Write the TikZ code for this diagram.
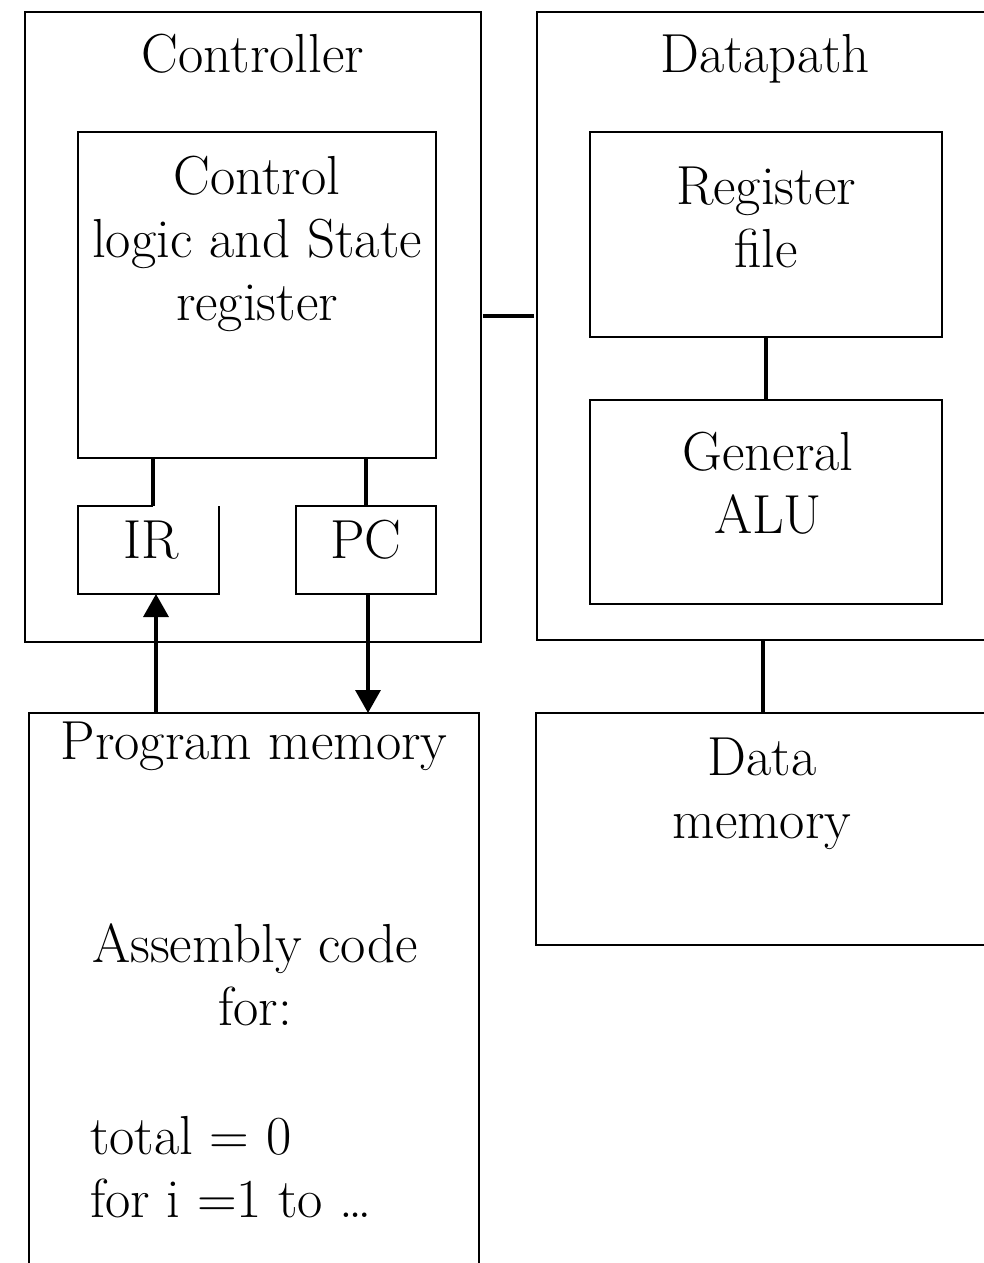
\documentclass[tikz,border=0pt]{standalone}
\usetikzlibrary{arrows.meta}

\begin{document}
\begin{tikzpicture}
  [x=1pt,y=-1pt,
   box/.style={draw,rectangle,line width=1.6pt,inner sep=0pt,outer sep=0pt},
   sz/.style 2 args={minimum width=#1pt,minimum height=#2pt},
   txt/.style={anchor=base,align=center,inner sep=0pt,font=\fontsize{55}{63}\selectfont},
   link/.style={line width=3.4pt},
   arr/.style={line width=3.4pt,-{Triangle[length=23pt,width=25pt]}}]
  \useasboundingbox (0,0) rectangle (984,1263);
  \clip (0,0) rectangle (984,1263);

  % outer blocks
  \node[box,sz={456}{630}] (ctrl) at (253,327) {};
  \node[box,sz={463}{628}] (dpath) at (768.5,326) {};
  \node[box,sz={450}{577}] (pmem) at (254,1001.5) {};
  \node[box,sz={464}{232}] (dmem) at (768,829) {};

  % inner blocks
  \node[box,sz={358}{326}] (logic) at (257,295) {};
  \node[box,draw=none,sz={141}{88}] (ir) at (148.5,550) {};
  \node[box,sz={140}{88}] (pc) at (366,550) {};
  \node[box,sz={352}{205}] (rf) at (766,234.5) {};
  \node[box,sz={352}{204}] (alu) at (766,502) {};
  \draw[line width=1.6pt] ([xshift=4.5pt]ir.north) -| (ir.south west) -| (ir.north east);

  % labels (multi-line ones sit on their last line)
  \node[txt] (ctrltxt) at (253,72) {Controller};
  \node[txt] (dpathtxt) at (765,72) {Datapath};
  \node[txt] (logictxt) at (257,320) {Control\\logic and State\\register};
  \node[txt] (irtxt) at (151,558) {IR};
  \node[txt] (pctxt) at (366,558) {PC};
  \node[txt] (rftxt) at (766,267) {Register\\file};
  \node[txt] (alutxt) at (768,533) {General\\ALU};
  \node[txt] (pmemtxt) at (254,759) {Program memory};
  \node[txt] (asmtxt) at (255,1025) {Assembly code\\for:};
  \node[txt,align=left,anchor=base west] (codetxt) at (90,1217) {total = 0\\for i =1 to \dots};
  \node[txt] (dmemtxt) at (762,838) {Data\\memory};

  % connections
  \coordinate (hl) at (0,316);
  \draw[link,shorten <=2pt,shorten >=3pt] (ctrl.east |- hl) -- (dpath.west |- hl);
  \draw[link] ([xshift=4.5pt]ir.north) -- ([xshift=4.5pt]ir.north |- logic.south);
  \draw[link] (pc.north) -- (pc.north |- logic.south);
  \draw[link] (rf.south) -- (alu.north);
  \draw[link] ([xshift=-3pt]alu.south |- dpath.south) -- ([xshift=-3pt]alu.south |- dmem.north);
  \draw[arr] ([xshift=7.5pt]ir.south |- pmem.north) -- ([xshift=7.5pt]ir.south);
  \draw[arr] ([xshift=2pt]pc.south) -- ([xshift=2pt]pc.south |- pmem.north);

\end{tikzpicture}
\end{document}
